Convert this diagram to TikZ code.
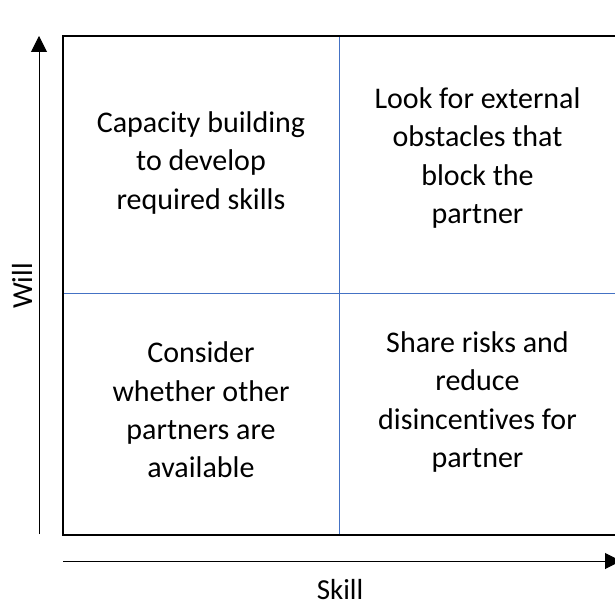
\documentclass[tikz,border=0pt]{standalone}
\usepackage{fontspec}
\setmainfont{Carlito}[Ligatures=NoCommon]
\usetikzlibrary{arrows.meta}
\definecolor{gridblue}{RGB}{68,114,196}
\begin{document}
\begin{tikzpicture}[x=1pt,y=1pt,
    quad/.style={align=center,inner sep=0pt,font=\fontsize{30}{38.3}\selectfont},
    axislabel/.style={inner sep=0pt,font=\fontsize{29}{34}\selectfont},
    axis/.style={line width=1pt,-{Triangle[width=16pt,length=16pt]}},
    divider/.style={gridblue,line width=1.3pt}]
                \useasboundingbox (0,0) rectangle (615,608);

                \coordinate (tl) at (63,572);
                \coordinate (br) at (618,73);
                \coordinate (ytop) at (39,572);
                \coordinate (ybot) at (39,74);
                \coordinate (xleft) at (63,47);
                \coordinate (xright) at (621,47);

                \draw[divider] (339.5,572) -- (339.5,73);
                \draw[divider] (63,314.3) -- (618,314.3);
                \draw[line width=2.6pt] (tl) rectangle (br);

                \draw[axis] (ybot) -- (ytop);
                \draw[axis] (xleft) -- (xright);

                \node[axislabel,rotate=90] (will) at (22,322) {Will};
                \node[axislabel] (skill) at (340,18) {Skill};

                \node[quad] (capacity) at (201,445) {Capacity building\\to develop\\required skills};
                \node[quad] (obstacles) at (477.5,450) {Look for external\\obstacles that\\block the\\partner};
                \node[quad] (consider) at (201,198) {Consider\\whether other\\partners are\\available};
                \node[quad] (sharerisk) at (477.5,206) {Share risks and\\reduce\\disincentives for\\partner};
            \end{tikzpicture}
\end{document}
